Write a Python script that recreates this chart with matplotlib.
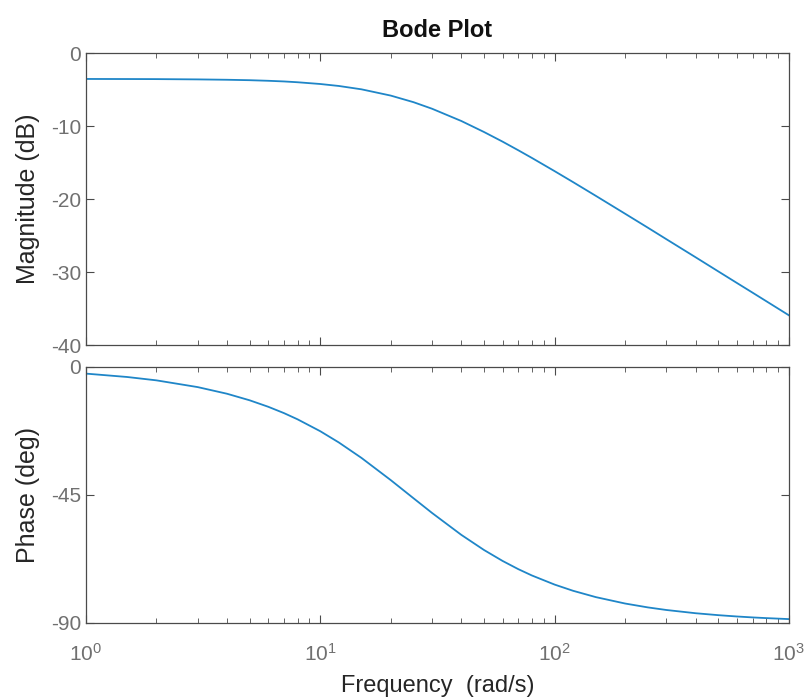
import matplotlib
matplotlib.use("Agg")
import matplotlib.pyplot as plt
from matplotlib.ticker import LogLocator, NullFormatter

# frequency (rad/s) and values
freq = [1, 1.5, 2, 3, 4, 5, 6, 7, 8, 10, 12, 15, 20, 25, 30, 40, 50, 60, 70, 80,
        100, 120, 150, 200, 250, 300, 400, 500, 600, 700, 800, 1000]
mag_db = [-3.53, -3.54, -3.55, -3.59, -3.64, -3.70, -3.78, -3.87, -3.98, -4.22,
          -4.49, -4.95, -5.81, -6.71, -7.61, -9.29, -10.80, -12.12, -13.30, -14.35,
          -16.16, -17.67, -19.55, -22.00, -23.91, -25.49, -27.97, -29.91, -31.49,
          -32.82, -33.98, -35.92]
phase_deg = [-2.39, -3.58, -4.76, -7.13, -9.46, -11.77, -14.04, -16.26, -18.44,
             -22.62, -26.57, -32.01, -39.81, -46.17, -51.34, -59.04, -64.36, -68.20,
             -71.08, -73.30, -76.50, -78.69, -80.91, -83.16, -84.52, -85.43, -86.57,
             -87.25, -87.71, -88.04, -88.28, -88.63]

mag_ticks = [0, -10, -20, -30, -40]
phase_ticks = [0, -45, -90]

plt.rcParams['font.family'] = ['Liberation Sans', 'DejaVu Sans']
plt.rcParams['mathtext.fontset'] = 'custom'
plt.rcParams['mathtext.rm'] = 'Liberation Sans'
plt.rcParams['axes.unicode_minus'] = False

line_color = "#1f86c8"
axis_color = "#4a4a4a"
tick_color = "#707070"
label_color = "#262626"

fig = plt.figure(figsize=(8.1, 7.0), dpi=100)
ax1 = fig.add_axes([0.106, 0.507, 0.868, 0.417])
ax2 = fig.add_axes([0.106, 0.110, 0.868, 0.366])

ax1.plot(freq, mag_db, color=line_color, lw=1.3)
ax2.plot(freq, phase_deg, color=line_color, lw=1.3)

for ax in (ax1, ax2):
    ax.set_xscale("log")
    ax.set_xlim(1, 1000)
    ax.xaxis.set_major_locator(LogLocator(base=10))
    ax.xaxis.set_minor_locator(LogLocator(base=10, subs=range(2, 10)))
    ax.xaxis.set_minor_formatter(NullFormatter())
    ax.tick_params(which="both", direction="in", top=True, right=True,
                   colors=axis_color, labelcolor=tick_color, labelsize=15)
    ax.tick_params(which="major", length=6, width=0.8)
    ax.tick_params(which="minor", length=3.5, width=0.6)
    for s in ax.spines.values():
        s.set_color(axis_color)
        s.set_linewidth(0.9)

ax1.set_ylim(-40, 0)
ax1.set_yticks(mag_ticks)
ax1.tick_params(axis="x", labelbottom=False)
ax1.set_ylabel("Magnitude (dB)", fontsize=18, color=label_color, labelpad=8)
ax1.set_title("Bode Plot", fontsize=17, fontweight="bold", color="#111111", pad=12)

ax2.set_ylim(-90, 0)
ax2.set_yticks(phase_ticks)
ax2.set_ylabel("Phase (deg)", fontsize=18, color=label_color, labelpad=8)
ax2.set_xlabel("Frequency  (rad/s)", fontsize=17, color=label_color, labelpad=8)
ax2.tick_params(axis="x", pad=14)

fig.savefig("out.png", dpi=100)
